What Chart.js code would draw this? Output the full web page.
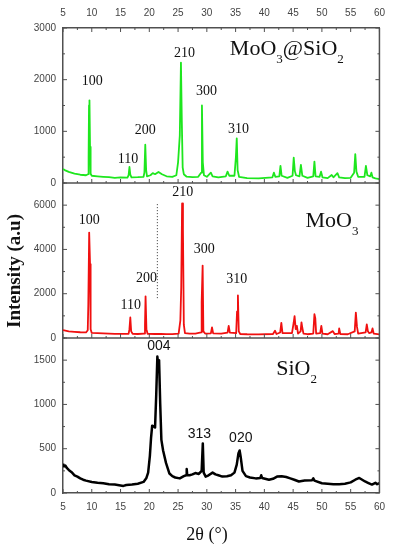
<!DOCTYPE html>
<html>
<head>
<meta charset="utf-8">
<script src="https://cdn.jsdelivr.net/npm/chart.js@4.4.1/dist/chart.umd.min.js"></script>
<style>
  html, body { margin: 0; padding: 0; background: #fff; }
</style>
</head>
<body>
<canvas id="myChart" width="394" height="550"></canvas>
<script>
// 2theta range and tick steps
const thetaMin = 5;
const thetaMax = 60;

// MoO3@SiO2 pattern (green) [2theta, intensity]
const moSiData = [
  [5, 270], [5.3, 250], [6, 215], [7, 180], [8, 160], [9, 150], [9.35, 170], [9.45, 500],
  [9.52, 1500], [9.6, 1600], [9.7, 700], [9.8, 180], [10, 140], [11, 130], [12, 120], [13, 112],
  [14, 100], [15, 108], [16.2, 105], [16.4, 150], [16.55, 310], [16.7, 160], [16.9, 110], [18, 112],
  [19, 120], [19.15, 200], [19.3, 740], [19.45, 250], [19.6, 130], [20.2, 150], [20.6, 190], [21, 170],
  [21.6, 215], [22.2, 170], [23, 130], [24, 120], [24.7, 150], [25, 400], [25.3, 920], [25.5, 2330],
  [25.65, 1200], [25.8, 300], [26, 170], [26.5, 122], [27.5, 115], [28.5, 120], [29, 200], [29.15, 1500],
  [29.3, 400], [29.5, 150], [30, 120], [30.7, 200], [31, 130], [32, 110], [33.3, 130], [33.6, 220],
  [33.9, 140], [34.8, 140], [35.05, 500], [35.2, 865], [35.35, 250], [35.6, 120], [37, 95], [39, 90],
  [41.4, 110], [41.65, 200], [41.9, 120], [42.6, 130], [42.8, 330], [43, 140], [44, 100], [44.9, 140],
  [45.1, 490], [45.3, 230], [45.5, 150], [46.1, 130], [46.35, 350], [46.6, 140], [47.5, 100], [48.5, 130],
  [48.7, 415], [48.9, 130], [49.6, 120], [49.85, 220], [50.1, 110], [51, 95], [51.7, 155], [52, 110],
  [52.7, 190], [53, 110], [54, 95], [55, 100], [55.6, 200], [55.8, 560], [56, 220], [56.3, 120],
  [57.4, 120], [57.65, 330], [57.9, 150], [58.4, 130], [58.6, 200], [58.8, 110], [59.3, 90], [60, 75]
];

// MoO3 pattern (red)
const moData = [
  [5, 360], [6, 300], [7, 280], [8, 260], [9, 250], [9.3, 350], [9.4, 1520], [9.55, 4760],
  [9.7, 3340], [9.8, 400], [10, 230], [11, 220], [12, 210], [13, 200], [14, 190], [15, 190],
  [16.4, 190], [16.55, 400], [16.7, 925], [16.85, 300], [17.1, 190], [18, 180], [19.1, 200], [19.25, 600],
  [19.35, 1880], [19.5, 400], [19.7, 190], [21, 180], [22, 180], [23, 175], [24, 175], [25.1, 200],
  [25.4, 800], [25.55, 2300], [25.7, 6075], [25.85, 4870], [26, 600], [26.2, 220], [27, 200], [28, 200],
  [29, 250], [29.1, 1625], [29.27, 3270], [29.4, 300], [29.7, 200], [30.7, 210], [30.9, 480], [31.1, 210],
  [32.5, 200], [33.6, 240], [33.8, 550], [34, 240], [35.1, 220], [35.25, 1200], [35.4, 1925], [35.55, 300],
  [35.8, 180], [37, 170], [39, 165], [41.5, 180], [41.85, 330], [42.1, 180], [42.75, 250], [42.95, 685],
  [43.15, 220], [44.8, 220], [45.1, 700], [45.25, 985], [45.45, 400], [45.65, 550], [45.85, 200], [46.3, 300],
  [46.45, 703], [46.6, 450], [46.8, 200], [47.5, 170], [48.5, 200], [48.7, 1075], [48.85, 900], [49, 200],
  [49.7, 220], [49.9, 550], [50.1, 200], [51, 170], [51.9, 310], [52.2, 180], [52.9, 200], [53, 430],
  [53.2, 180], [54.5, 170], [55.7, 300], [55.9, 1150], [56.1, 500], [56.3, 200], [57.6, 250], [57.8, 610],
  [58, 300], [58.2, 220], [58.6, 250], [58.8, 430], [59, 200], [60, 165]
];

// SiO2 pattern (black)
const siData = [
  [5, 330], [5.2, 300], [5.4, 310], [5.7, 280], [6, 260], [6.5, 235], [7, 200], [7.5, 185],
  [8, 165], [8.5, 150], [9, 140], [10, 125], [11, 115], [12, 110], [13, 100], [14, 95],
  [15, 85], [15.5, 80], [16, 90], [17, 95], [18, 105], [19, 125], [19.5, 170], [19.8, 230],
  [20.1, 420], [20.3, 620], [20.5, 760], [20.8, 750], [21, 740], [21.2, 1100], [21.4, 1540], [21.55, 1450],
  [21.7, 1500], [21.9, 1000], [22.1, 600], [22.4, 480], [22.9, 340], [23.5, 220], [24, 190], [24.5, 175],
  [25.3, 165], [26, 190], [26.4, 200], [26.5, 270], [26.6, 200], [27, 200], [27.5, 210], [28, 225],
  [28.6, 215], [29.1, 250], [29.3, 560], [29.45, 230], [29.8, 185], [30.3, 200], [31, 230], [31.5, 210],
  [32, 200], [32.7, 185], [33.5, 190], [34.2, 200], [34.8, 230], [35.2, 320], [35.5, 450], [35.7, 480],
  [35.9, 400], [36.2, 250], [36.8, 190], [37.5, 175], [38.5, 165], [39.3, 170], [39.45, 200], [39.6, 170],
  [40.8, 150], [41.5, 160], [42.2, 185], [43, 190], [43.8, 180], [44.5, 165], [45.2, 150], [46, 130],
  [47, 140], [48.3, 145], [48.5, 165], [48.7, 140], [50, 110], [51, 105], [52, 100], [53, 100],
  [54, 105], [55, 120], [55.8, 150], [56.5, 170], [57, 150], [57.5, 130], [58, 115], [58.7, 95],
  [59.3, 115], [59.6, 100], [60, 110]
];

// dotted guide in MoO3 panel
const guideData = [[21.4, 1800], [21.4, 6050]];

// peak labels: [text, 2theta, intensity]
const moSiPeaks = [['100', 10.07, 1967], ['110', 16.3, 462], ['200', 19.3, 1027], ['210', 26.1, 2519], ['300', 29.96, 1779], ['310', 35.5, 1032]];
const moPeaks = [['100', 9.55, 5315], ['110', 16.76, 1478], ['200', 19.5, 2700], ['210', 25.8, 6583], ['300', 29.56, 4017], ['310', 35.2, 2642]];
const siPeaks = [['004', 21.66, 1658], ['313', 28.7, 662], ['020', 35.9, 617]];

// panel names, alternating normal / subscript pieces, anchored at [2theta, intensity]
const moSiName = ['MoO', '3', '@SiO', '2'];
const moName = ['MoO', '3'];
const siName = ['SiO', '2'];
const moSiNameAt = [34.0, 2474];
const moNameAt = [47.14, 5029];
const siNameAt = [42.06, 1331];

const axisColor = '#505050';
const labelColor = '#444';
const tickFont = { family: 'Liberation Sans', size: 10 };
const serif = '"Liberation Serif", "DejaVu Serif", serif';
const sans = '"Liberation Sans", Arial, sans-serif';

const toXY = arr => arr.map(p => ({ x: p[0], y: p[1] }));

function xAxis(pos, h, pad) {
  return {
    type: 'linear', position: pos, min: thetaMin, max: thetaMax,
    ticks: { stepSize: 2.5, autoSkip: false, maxRotation: 0, color: labelColor, font: tickFont, padding: pad,
      callback: v => (v % 5 === 0 ? v : '') },
    grid: { drawOnChartArea: false, drawTicks: false },
    border: { color: axisColor, width: 1.5 },
    afterFit: s => { s.height = h; }
  };
}

function yAxis(max, step, major) {
  return {
    type: 'linear', position: 'left', stack: 'panels', stackWeight: 1, min: 0, max: max,
    ticks: { stepSize: step, autoSkip: false, color: labelColor, font: tickFont, padding: 7,
      callback: v => (v % major === 0 && v !== max) || (max === 3000 && v === 3000) ? v : '' },
    grid: { drawOnChartArea: false, drawTicks: false },
    border: { color: axisColor, width: 1.5 },
    afterFit: s => { s.width = 63; }
  };
}

function line(ctx, x1, y1, x2, y2) {
  ctx.beginPath(); ctx.moveTo(x1, y1); ctx.lineTo(x2, y2); ctx.stroke();
}

function drawName(ctx, parts, x, y) {
  let cx = x;
  parts.forEach((p, i) => {
    const sub = i % 2 === 1;
    ctx.font = (sub ? '13px ' : '22px ') + serif;
    ctx.fillText(p, cx, sub ? y + 8 : y);
    cx += ctx.measureText(p).width;
  });
}

const xrdDecor = {
  id: 'xrdDecor',
  afterDraw(chart) {
    const { ctx, chartArea: a, scales } = chart;
    const x = scales.x;
    const panels = [scales.yA, scales.yB, scales.yC];
    ctx.save();
    ctx.strokeStyle = axisColor;
    ctx.lineWidth = 1.5;
    line(ctx, a.right, a.top, a.right, a.bottom);
    line(ctx, a.left, scales.yA.bottom, a.right, scales.yA.bottom);
    line(ctx, a.left, scales.yB.bottom, a.right, scales.yB.bottom);

    // inward ticks
    ctx.lineWidth = 1;
    x.ticks.forEach(t => {
      const px = x.getPixelForValue(t.value);
      const len = t.value % 5 === 0 ? 4 : 2;
      line(ctx, px, a.top, px, a.top + len);
      panels.forEach(s => line(ctx, px, s.bottom, px, s.bottom - len));
    });
    panels.forEach(s => s.ticks.forEach(t => {
      const py = s.getPixelForValue(t.value);
      const len = t.label !== '' ? 4 : 2;
      line(ctx, a.left, py, a.left + len, py);
      line(ctx, a.right, py, a.right - len, py);
    }));

    // peak labels
    ctx.fillStyle = '#111';
    ctx.textAlign = 'center';
    ctx.textBaseline = 'middle';
    ctx.font = '14px ' + serif;
    moSiPeaks.forEach(p => ctx.fillText(p[0], x.getPixelForValue(p[1]), scales.yA.getPixelForValue(p[2])));
    moPeaks.forEach(p => ctx.fillText(p[0], x.getPixelForValue(p[1]), scales.yB.getPixelForValue(p[2])));
    ctx.font = '14px ' + sans;
    siPeaks.forEach(p => ctx.fillText(p[0], x.getPixelForValue(p[1]), scales.yC.getPixelForValue(p[2])));

    // panel names
    ctx.textAlign = 'left';
    ctx.textBaseline = 'alphabetic';
    drawName(ctx, moSiName, x.getPixelForValue(moSiNameAt[0]), scales.yA.getPixelForValue(moSiNameAt[1]));
    drawName(ctx, moName, x.getPixelForValue(moNameAt[0]), scales.yB.getPixelForValue(moNameAt[1]));
    drawName(ctx, siName, x.getPixelForValue(siNameAt[0]), scales.yC.getPixelForValue(siNameAt[1]));

    // axis titles
    ctx.textAlign = 'center';
    ctx.textBaseline = 'middle';
    ctx.font = '18px ' + serif;
    ctx.fillText('2θ (°)', 207, 535);
    ctx.save();
    ctx.translate(15, 271);
    ctx.rotate(-Math.PI / 2);
    ctx.font = 'bold 19px ' + serif;
    ctx.fillText('Intensity (a.u)', 0, 0);
    ctx.restore();
    ctx.restore();
  }
};

const lineStyle = { pointRadius: 0, tension: 0, borderJoinStyle: 'round', fill: false };

// stacked y axes are laid out bottom-up, so the bottom panel (SiO2) is listed first
const chart = new Chart(document.getElementById('myChart').getContext('2d'), {
  type: 'line',
  data: {
    datasets: [
      Object.assign({ label: 'MoO3@SiO2', data: toXY(moSiData), yAxisID: 'yA', borderColor: '#1ee61e', borderWidth: 1.8 }, lineStyle),
      Object.assign({ label: 'MoO3', data: toXY(moData), yAxisID: 'yB', borderColor: '#f01010', borderWidth: 1.8 }, lineStyle),
      Object.assign({ label: 'SiO2', data: toXY(siData), yAxisID: 'yC', borderColor: '#000', borderWidth: 2.5 }, lineStyle),
      Object.assign({ label: 'guide', data: toXY(guideData), yAxisID: 'yB', borderColor: '#333', borderWidth: 1, borderDash: [1, 2] }, lineStyle)
    ]
  },
  options: {
    responsive: false,
    animation: false,
    devicePixelRatio: 1,
    layout: { padding: { left: 0, right: 13, top: 0, bottom: 0 } },
    plugins: { legend: { display: false }, tooltip: { enabled: false } },
    scales: {
      x: xAxis('bottom', 57, 8),
      x2: xAxis('top', 28, 9),
      yC: yAxis(1750, 250, 500),
      yB: yAxis(7000, 1000, 2000),
      yA: yAxis(3000, 500, 1000)
    }
  },
  plugins: [xrdDecor]
});
</script>
</body>
</html>
